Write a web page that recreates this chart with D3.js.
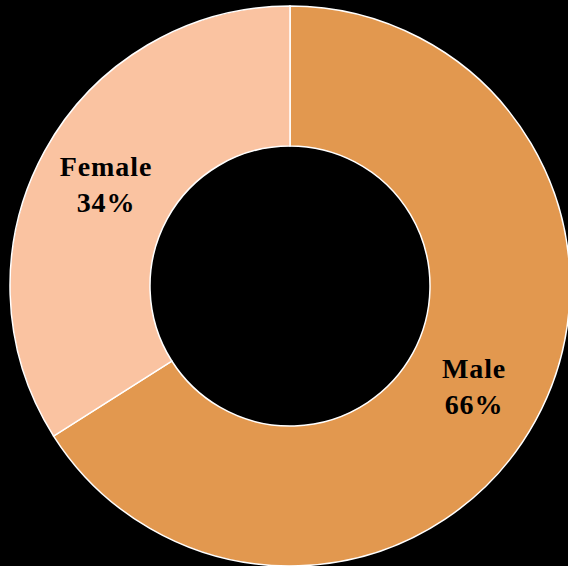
<!DOCTYPE html>
<html>
<head>
<meta charset="utf-8">
<script src="https://cdn.jsdelivr.net/npm/d3@7"></script>
<style>
  body { margin: 0; background: #000; }
  svg { display: block; }
</style>
</head>
<body>
<div id="chart"></div>
<script>
const categories = ["Male", "Female"];
const values = [66, 34];
const colors = ["#E2984F", "#FAC3A1"];

const width = 568, height = 566;
const cx = 290, cy = 286;
const outerR = 280, innerR = 140;

const svg = d3.select("#chart")
    .append("svg")
    .attr("width", width)
    .attr("height", height);

svg.append("rect").attr("width", width).attr("height", height).attr("fill", "#000");

const data = categories.map((c, i) => ({ name: c, value: values[i] }));

const color = d3.scaleOrdinal().domain(categories).range(colors);

const pie = d3.pie().value(d => d.value).sort(null);
const arc = d3.arc().innerRadius(innerR).outerRadius(outerR);

const g = svg.append("g").attr("transform", `translate(${cx},${cy})`);

const slices = g.selectAll("g.slice")
    .data(pie(data))
    .enter().append("g").attr("class", "slice");

slices.append("path")
    .attr("d", arc)
    .attr("fill", d => color(d.data.name))
    .attr("stroke", "#fff")
    .attr("stroke-width", 1.5);

// labels at arc centroid, two lines
const lbl = slices.append("text")
    .attr("transform", d => `translate(${arc.centroid(d)})`)
    .attr("text-anchor", "middle")
    .style("font-family", "'Liberation Serif', serif")
    .style("font-weight", "bold")
    .style("font-size", "28px")
    .style("letter-spacing", "0.9px")
    .attr("fill", "#000");

lbl.append("tspan").attr("x", 0).attr("dy", "-0.32em").text(d => d.data.name);
lbl.append("tspan").attr("x", 0).attr("dy", "1.29em").text(d => d.data.value + "%");
</script>
</body>
</html>
